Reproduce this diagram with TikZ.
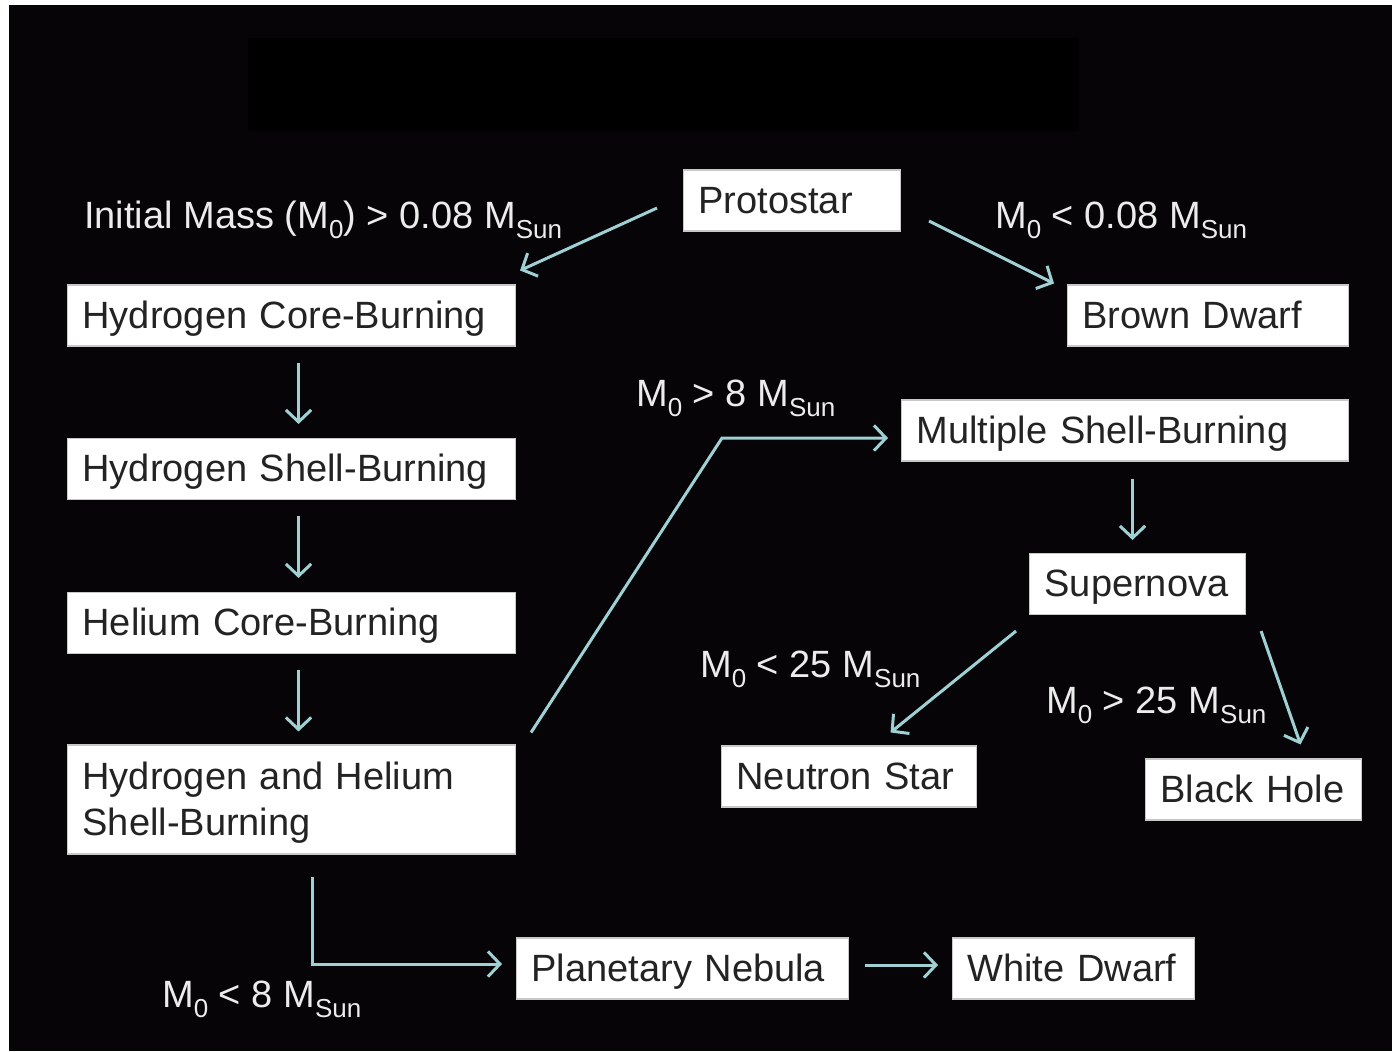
\documentclass[tikz,border=0pt]{standalone}
\usepackage{fontspec}
\setmainfont{Liberation Sans}
\usepackage{tikz}
\usetikzlibrary{calc}
\usetikzlibrary{arrows.meta}
\usetikzlibrary{positioning}

\definecolor{slidebg}{RGB}{6,4,6}
\definecolor{flowcol}{RGB}{158,208,212}
\definecolor{boxtext}{RGB}{35,35,35}
\definecolor{boxline}{RGB}{200,200,200}
\definecolor{labtext}{RGB}{236,236,236}

\newcommand{\lowsub}[1]{\raisebox{-7.5pt}{\fontsize{19.5}{19.5}\selectfont #1}}
\newcommand{\msun}{M\lowsub{Sun}}
\newcommand{\mnull}{M\lowsub{0}}

\tikzset{
  stage/.style={draw=boxline, line width=0.8pt, fill=white, text=boxtext,
    font=\fontsize{28.5}{34.5}\selectfont, anchor=west, align=left,
    inner xsep=11.25pt, inner ysep=0pt, minimum height=45.75pt},
  oneline/.style={stage, text height=25.5pt, text depth=6.3pt},
  cond/.style={text=labtext, font=\fontsize{28.5}{34}\selectfont,
    anchor=base west, inner sep=0pt},
  flow/.style={draw=flowcol, line width=2.25pt,
    -{Straight Barb[length=9pt,width=19pt,line width=2.25pt]}}
}

\begin{document}
\begin{tikzpicture}[x=0.75pt,y=-0.75pt]
\useasboundingbox (0,0) rectangle (1392,1051);
\fill[white] (0,0) rectangle (1392,1051);
\fill[slidebg] (9,5) rectangle (1392,1051);
\fill[black] (248,38) rectangle (1079,131);

% stages
\node[oneline, text width=140.25pt] (proto) at (683,200.5) {Protostar};
\node[oneline, text width=313.5pt] (hcb) at (67,315.5) {Hydrogen Core-Burning};
\node[oneline, text width=313.5pt] (hsb) at (67,469) {Hydrogen Shell-Burning};
\node[oneline, text width=313.5pt] (hecb) at (67,623) {Helium Core-Burning};
\node[stage, text width=313.5pt, minimum height=81.75pt] (hhsb) at (67,799.5)
  {\rule{0pt}{25.5pt}Hydrogen and Helium\\Shell-Burning};
\node[oneline, text width=188.25pt] (bd) at (1067,315.5) {Brown Dwarf};
\node[oneline, text width=312.75pt] (msb) at (901,430.5) {Multiple Shell-Burning};
\node[oneline, text width=139.5pt] (sn) at (1029,584) {Supernova};
\node[oneline, text width=168.75pt] (ns) at (721,776.5) {Neutron Star};
\node[oneline, text width=139.5pt] (bh) at (1145,789.5) {Black Hole};
\node[oneline, text width=226.5pt] (pn) at (516,968.5) {Planetary Nebula};
\node[oneline, text width=159pt] (wd) at (952,968.5) {White Dwarf};

% mass conditions
\node[cond] (low) at (84,228) {Initial Mass (\mnull) > 0.08 \msun};
\node[cond] (tiny) at (995,228) {\mnull{} < 0.08 \msun};
\node[cond] (heavy) at (636,406) {\mnull{} > 8 \msun};
\node[cond] (nsmass) at (700,677) {\mnull{} < 25 \msun};
\node[cond] (bhmass) at (1046,713) {\mnull{} > 25 \msun};
\node[cond] (light) at (162,1007) {\mnull{} < 8 \msun};

% arrows
\draw[flow] ($(proto.west)+(-26,7.5)$) -- ($(hcb.north east)+(4,-14)$);
\draw[flow] ($(proto.east)+(28,20.5)$) -- ($(bd.north west)+(-13,-1)$);
\draw[flow] ($(hcb.south)+(7,16)$) -- ($(hsb.north)+(7,-14)$);
\draw[flow] ($(hsb.south)+(7,16)$) -- ($(hecb.north)+(7,-14)$);
\draw[flow] ($(hecb.south)+(7,16)$) -- ($(hhsb.north)+(7,-13)$);
\draw[flow] ($(hhsb.north east)+(15,-12)$) -- ($(msb.west)+(-179,7.5)$)
  -- ($(msb.west)+(-13,7.5)$);
\draw[flow] ($(hhsb.south)+(21,22)$) |- ($(pn.west)+(-14,-4.5)$);
\draw[flow] ($(pn.east)+(16,-3.5)$) -- ($(wd.west)+(-14,-3.5)$);
\draw[flow] ($(msb.south)+(7.5,17)$) -- ($(sn.north)+(-5,-13)$);
\draw[flow] ($(sn.south west)+(-13,16)$) -- ($(ns.north)+(41.5,-13)$);
\draw[flow] ($(sn.south east)+(15,16)$) -- ($(bh.north)+(47,-14)$);
\end{tikzpicture}
\end{document}
